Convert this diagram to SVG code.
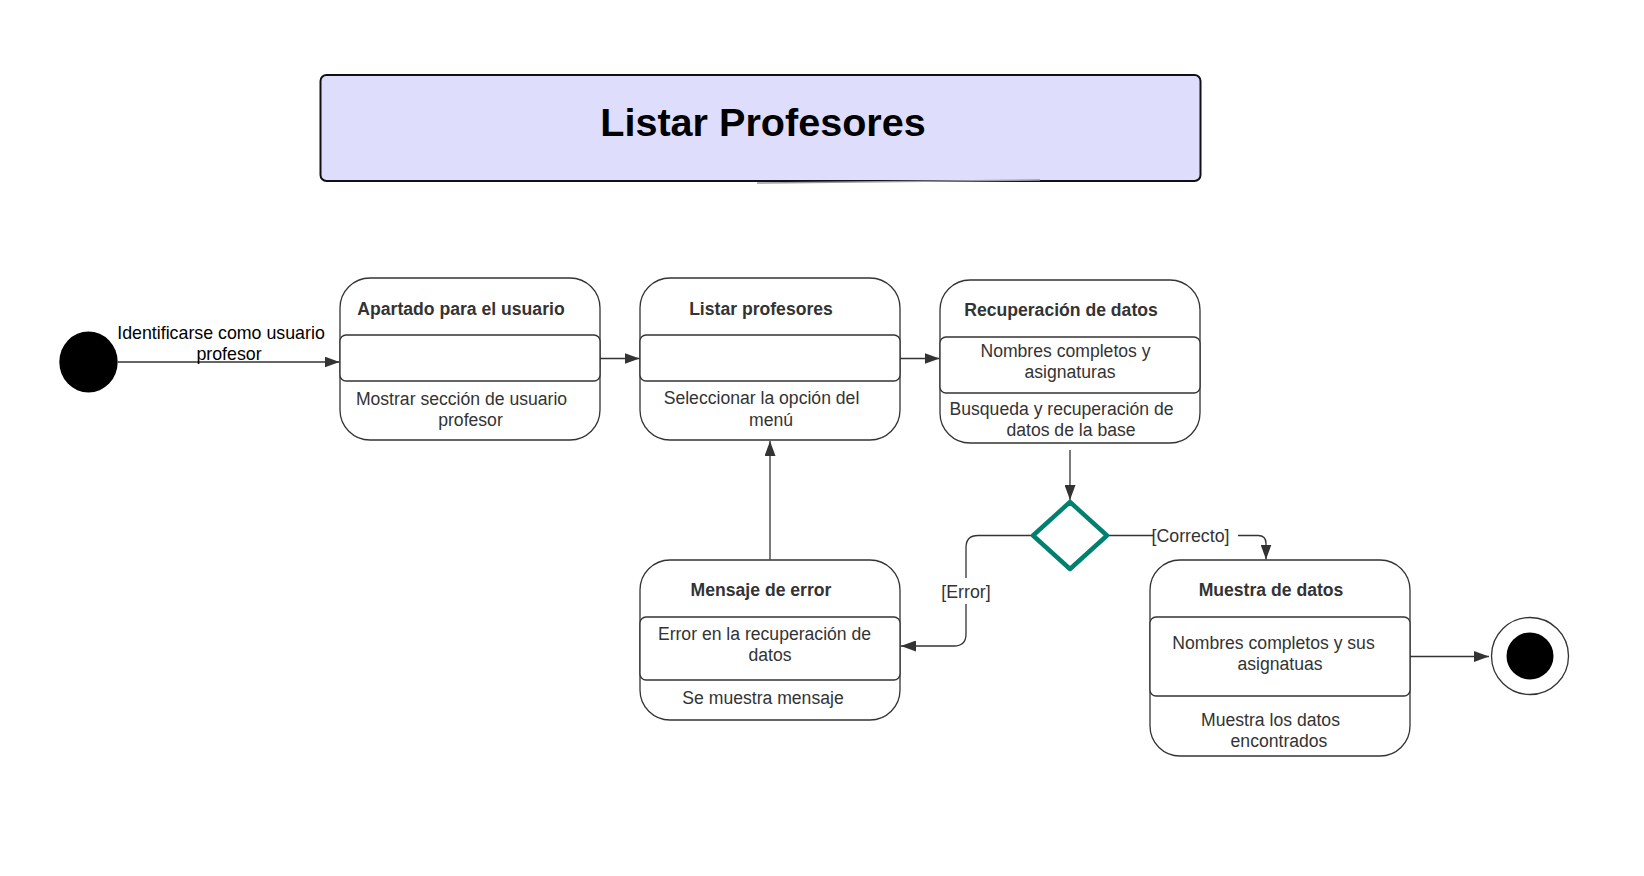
<svg xmlns="http://www.w3.org/2000/svg" width="1644" height="876" viewBox="0 0 1644 876">
<defs>
<marker id="arr" viewBox="0 0 10 10" refX="10" refY="5" markerUnits="userSpaceOnUse" markerWidth="15" markerHeight="11" orient="auto" preserveAspectRatio="none">
<path d="M0,0 L10,5 L0,10 z" fill="#333333"/>
</marker>
<style>
.node{fill:#ffffff;stroke:#333333;stroke-width:1.3}
.band{fill:#ffffff;stroke:#333333;stroke-width:1.3}
.t{font-family:"Liberation Sans",Arial,sans-serif;font-size:17.6px;fill:#333333;text-anchor:middle}
.b{font-weight:bold}
.conn{fill:none;stroke:#333333;stroke-width:1.3}
.lbl{font-family:"Liberation Sans",Arial,sans-serif;font-size:17.8px;fill:#000000;text-anchor:middle}
.glbl{font-family:"Liberation Sans",Arial,sans-serif;font-size:17.8px;fill:#333333;text-anchor:middle}
</style>
</defs>
<rect width="1644" height="876" fill="#ffffff"/>

<g id="title">
<rect x="320.5" y="75" width="880" height="106" rx="6" fill="#DEDEFC" stroke="#111111" stroke-width="2"/>
<line x1="757" y1="183" x2="1040" y2="180" stroke="#9a9a9a" stroke-width="1.5"/>
<text x="763" y="135.5" font-family="'Liberation Sans',Arial,sans-serif" font-size="39.6" font-weight="bold" fill="#000000" text-anchor="middle">Listar Profesores</text>
</g>

<g id="connectors">
<path class="conn" d="M118,362 H339.5" marker-end="url(#arr)"/>
<path class="conn" d="M600,358.5 H639.5" marker-end="url(#arr)"/>
<path class="conn" d="M900,358.5 H939.5" marker-end="url(#arr)"/>
<path class="conn" d="M770,559.5 V441" marker-end="url(#arr)"/>
<path class="conn" d="M1070,450 V500" marker-end="url(#arr)"/>
<path class="conn" d="M1033.5,535.5 H978 Q966,535.5 966,547.5 V634 Q966,646 954,646 H901" marker-end="url(#arr)"/>
<rect x="950" y="578" width="32" height="26" fill="#ffffff"/>
<text class="glbl" x="966" y="597.5">[Error]</text>
<path class="conn" d="M1106.5,535.5 H1154"/>
<path class="conn" d="M1238,535.5 H1258 Q1266,535.5 1266,543.5 V559.5" marker-end="url(#arr)"/>
<text class="glbl" x="1190.5" y="541.5">[Correcto]</text>
<path class="conn" d="M1410,656.5 H1489" marker-end="url(#arr)"/>
<text class="lbl" x="221" y="339.3">Identificarse como usuario</text>
<text class="lbl" x="229" y="360">profesor</text>
</g>

<g id="start">
<ellipse cx="88.5" cy="362" rx="29.2" ry="30.5" fill="#000000"/>
</g>

<g id="n1">
<rect class="node" x="340" y="278" width="260" height="162" rx="30"/>
<rect class="band" x="340" y="335" width="260" height="46" rx="6"/>
<text class="t b" x="461" y="314.5">Apartado para el usuario</text>
<text class="t" x="461.5" y="404.5">Mostrar sección de usuario</text>
<text class="t" x="470.5" y="425.5">profesor</text>
</g>

<g id="n2">
<rect class="node" x="640" y="278" width="260" height="162" rx="30"/>
<rect class="band" x="640" y="335" width="260" height="46" rx="6"/>
<text class="t b" x="761" y="314.5">Listar profesores</text>
<text class="t" x="761.5" y="404">Seleccionar la opción del</text>
<text class="t" x="771" y="425.5">menú</text>
</g>

<g id="n3">
<rect class="node" x="940" y="280" width="260" height="163" rx="30"/>
<rect class="band" x="940" y="337" width="260" height="56" rx="6"/>
<text class="t b" x="1061" y="316.3">Recuperación de datos</text>
<text class="t" x="1065.5" y="357.3">Nombres completos y</text>
<text class="t" x="1070" y="378">asignaturas</text>
<text class="t" x="1061.5" y="414.6">Busqueda y recuperación de</text>
<text class="t" x="1071" y="435.6">datos de la base</text>
</g>

<g id="decision">
<polygon points="1070,502 1107,535.5 1070,569 1033,535.5" fill="#ffffff" stroke="#00806F" stroke-width="4.4" stroke-linejoin="round"/>
</g>

<g id="n4">
<rect class="node" x="640" y="560" width="260" height="160" rx="30"/>
<rect class="band" x="640" y="617" width="260" height="63" rx="6"/>
<text class="t b" x="761" y="595.6">Mensaje de error</text>
<text class="t" x="764.5" y="640">Error en la recuperación de</text>
<text class="t" x="770" y="661.3">datos</text>
<text class="t" x="763" y="704">Se muestra mensaje</text>
</g>

<g id="n5">
<rect class="node" x="1150" y="560" width="260" height="196" rx="30"/>
<rect class="band" x="1150" y="617" width="260" height="79" rx="6"/>
<text class="t b" x="1271" y="595.6">Muestra de datos</text>
<text class="t" x="1273.5" y="649">Nombres completos y sus</text>
<text class="t" x="1280" y="670">asignatuas</text>
<text class="t" x="1270.5" y="725.6">Muestra los datos</text>
<text class="t" x="1279" y="747.3">encontrados</text>
</g>

<g id="end">
<circle cx="1530" cy="656" r="38.5" fill="#ffffff" stroke="#333333" stroke-width="1.3"/>
<circle cx="1530" cy="656" r="23.5" fill="#000000"/>
</g>
</svg>
